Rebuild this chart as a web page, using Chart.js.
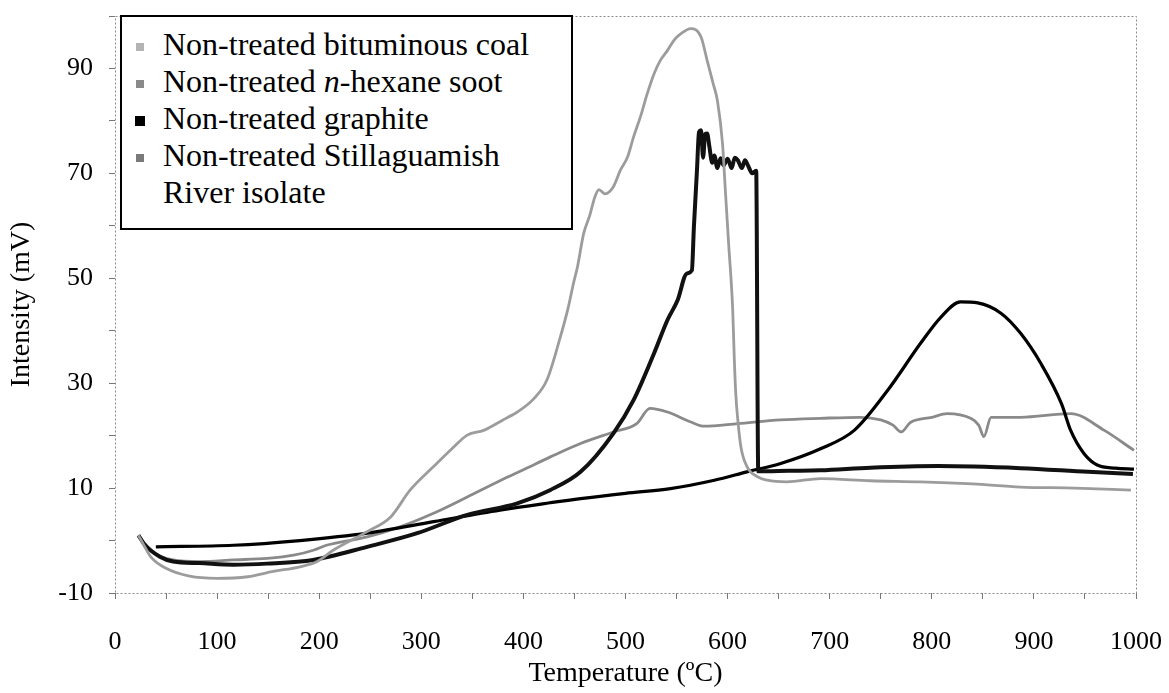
<!DOCTYPE html>
<html lang="en">
<head>
    <meta charset="UTF-8">
    <title>Intensity vs temperature</title>
    <script src="https://cdn.jsdelivr.net/npm/chart.js@4.4.1/dist/chart.umd.min.js"></script>
    <style>
        body { margin: 0; background: #fff; }
        #wrap { position: relative; width: 1169px; height: 693px; }
        #legend {
            position: absolute; left: 120px; top: 15px; width: 449px; height: 202px;
            border: 2px solid #000; background: #fff;
            font-family: "Liberation Serif", "Times New Roman", serif; font-size: 32px; line-height: 37px; color: #000;
            padding-top: 9px; box-sizing: content-box;
        }
        #legend .row { display: flex; align-items: flex-start; }
        #legend .mk { width: 8px; height: 8px; margin: 17px 19px 0 14px; flex: none; }
        #legend .tx { width: 385px; }
    </style>
</head>
<body>
<div id="wrap">
    <canvas id="chart" width="1169" height="693"></canvas>
    <div id="legend"></div>
</div>
<script>
// series names (legend order)
const seriesNames = ['Non-treated bituminous coal', 'Non-treated n-hexane soot', 'Non-treated graphite', 'Non-treated Stillaguamish River isolate'];

// bituminous coal (tall grey peak)
const coalT = [23, 30, 35, 50, 73, 100, 130, 155, 181, 198, 214, 247, 270, 289, 312, 330, 345, 361, 380, 394, 410, 423, 435, 444, 449, 453, 459, 465, 470, 474, 480, 488, 495, 502, 508, 515, 521, 528, 534, 541, 548, 554, 564, 574, 580, 586, 590, 595, 598, 601, 605, 606.5, 608, 610, 613, 619, 629, 639, 658, 691, 740, 789, 840, 887, 940, 995];
const coalV = [1, -1.5, -3.1, -5.3, -6.8, -7.2, -6.9, -5.9, -5, -4, -1.8, 1.7, 4.5, 9.6, 14.1, 17.5, 20.1, 21, 23, 24.5, 27, 30.6, 38, 44.5, 49, 52.2, 58.5, 62, 65.5, 66.9, 66.1, 67.4, 70.6, 73.1, 77, 81, 85, 89, 91.5, 93.4, 95.5, 96.6, 97.6, 96, 91.5, 87, 83.9, 75.7, 66.1, 56.6, 44, 35, 28, 23, 17.9, 14.1, 12.2, 11.5, 11.2, 11.8, 11.4, 11.2, 10.8, 10.2, 10, 9.6];

// n-hexane soot (sharp black peak, drop at 630)
const sootT = [23, 28, 44, 57, 83, 116, 149, 194, 247, 296, 345, 394, 426, 456, 488, 508, 528, 541, 551, 560, 565, 567, 570, 572, 574, 576, 578, 580, 582, 585, 587, 590, 593, 596, 600, 604, 607, 610, 614, 617, 620, 624, 628, 630, 660, 691, 740, 806, 887, 953, 997];
const sootV = [1, -0.5, -3.1, -4, -4.3, -4.6, -4.4, -3.7, -1.2, 1.4, 4.9, 7.1, 9.6, 13.1, 20.4, 26.8, 35.7, 42, 45.8, 50.9, 51.5, 59.8, 70.6, 77.9, 78.2, 73, 77.5, 77.6, 75.3, 72, 73.4, 71, 72.9, 71.5, 72.8, 71, 73, 72.5, 71, 72.5, 71.5, 70, 70.5, 13.2, 13.3, 13.4, 13.9, 14.2, 13.8, 13.1, 12.7];

// graphite (broad peak near 830)
const graphT = [40, 116, 181, 247, 312, 377, 426, 456, 500, 544, 587, 619, 652, 691, 724, 757, 789, 809, 828, 845, 868, 887, 907, 927, 936, 949, 962, 980, 998];
const graphV = [-1.2, -0.9, 0, 1.4, 3.6, 5.8, 7.2, 8, 9, 9.9, 11.5, 13.1, 14.7, 17.5, 21, 28.7, 37.6, 42.6, 45.5, 45.3, 43.3, 39.5, 33.7, 26.1, 21, 16.6, 14.4, 13.8, 13.6];

// Stillaguamish River isolate (grey plateau)
const isoT = [23, 34, 57, 83, 116, 149, 175, 195, 207, 247, 279, 312, 345, 378, 400, 427, 456, 488, 511, 524, 541, 564, 577, 610, 652, 691, 730, 750, 762, 770, 779, 800, 815, 838, 846, 851, 858, 887, 936, 969, 998];
const isoV = [1, -1.8, -3.7, -4, -3.7, -3.4, -2.8, -1.8, -0.9, 0.7, 2.6, 5.2, 8.3, 11.5, 13.5, 16, 18.5, 20.7, 22.3, 25.2, 24.5, 22.6, 21.8, 22.3, 23, 23.3, 23.5, 23, 22, 20.7, 22.5, 23.5, 24.2, 23.3, 22, 19.8, 23.5, 23.5, 24.2, 21, 17.2];

// axis ticks
const xLabelTicks = [0, 100, 200, 300, 400, 500, 600, 700, 800, 900, 1000];
const yLabelTicks = [-10, 10, 30, 50, 70, 90];

const serif = '"Liberation Serif", "Times New Roman", serif';
const pts = (t, v) => t.map((x, i) => ({ x: x, y: v[i] }));

// line colour / legend marker colour per series
const lineColors = ['#9c9c9c', '#111111', '#000000', '#8a8a8a'];
const markColors = ['#b4b4b4', '#8a8a8a', '#000000', '#7a7a7a'];
const lineWidths = [2.8, 4, 3.2, 2.8];
const seriesData = [pts(coalT, coalV), pts(sootT, sootV), pts(graphT, graphV), pts(isoT, isoV)];

// dotted plot frame
const frame = {
    id: 'frame',
    beforeDatasetsDraw(chart) {
        const { ctx, chartArea: a } = chart;
        ctx.save();
        ctx.strokeStyle = '#8a8a8a';
        ctx.lineWidth = 1;
        ctx.setLineDash([2, 2]);
        ctx.strokeRect(a.left + 0.5, a.top + 0.5, a.width, a.height);
        ctx.restore();
    }
};

new Chart(document.getElementById('chart'), {
    type: 'line',
    data: {
        datasets: seriesData.map((d, i) => ({
            label: seriesNames[i],
            data: d,
            borderColor: lineColors[i],
            backgroundColor: markColors[i],
            borderWidth: lineWidths[i],
            pointRadius: 0,
            cubicInterpolationMode: 'monotone',
            fill: false
        }))
    },
    options: {
        responsive: false,
        animation: false,
        devicePixelRatio: 1,
        layout: { padding: { left: 0, right: 33, top: 16, bottom: 0 } },
        plugins: { legend: { display: false }, tooltip: { enabled: false } },
        scales: {
            x: {
                type: 'linear', min: 0, max: 1000,
                afterBuildTicks: s => { s.ticks = []; for (let v = 0; v <= 1000; v += 50) s.ticks.push({ value: v }); },
                afterFit: s => { s.height = 100; s.paddingLeft = 0; s.paddingRight = 0; },
                grid: { drawOnChartArea: false, tickLength: 6, color: '#777' },
                border: { display: false },
                ticks: {
                    autoSkip: false, maxRotation: 0, padding: 28, color: '#000',
                    font: { family: serif, size: 26 },
                    callback: v => xLabelTicks.includes(v) ? String(v) : ''
                },
                title: { display: true, text: 'Temperature (\u00BAC)', color: '#000', font: { family: serif, size: 28 }, padding: { top: 0, bottom: 3 } }
            },
            y: {
                type: 'linear', min: -10, max: 100,
                afterBuildTicks: s => { s.ticks = []; for (let v = -10; v <= 100; v += 10) s.ticks.push({ value: v }); },
                afterFit: s => { s.width = 115; s.paddingTop = 0; s.paddingBottom = 0; },
                grid: { drawOnChartArea: false, tickLength: 6, color: '#777' },
                border: { display: false },
                ticks: {
                    autoSkip: false, padding: 16, color: '#000',
                    font: { family: serif, size: 26 },
                    callback: v => yLabelTicks.includes(v) ? String(v) : ''
                },
                title: { display: true, text: 'Intensity (mV)', color: '#000', font: { family: serif, size: 28 }, padding: { top: 5, bottom: 0 } }
            }
        }
    },
    plugins: [frame]
});

// legend box inside the plot, as in the original figure
const legend = document.getElementById('legend');
seriesNames.forEach((name, i) => {
    const row = document.createElement('div');
    row.className = 'row';
    const mk = document.createElement('span');
    mk.className = 'mk';
    mk.style.background = markColors[i];
    if (i === 2) { mk.style.width = '10px'; mk.style.height = '10px'; mk.style.marginTop = '16px'; mk.style.marginLeft = '13px'; mk.style.marginRight = '18px'; }
    const tx = document.createElement('span');
    tx.className = 'tx';
    tx.innerHTML = name.replace('n-hexane', '<i>n</i>-hexane');
    row.appendChild(mk);
    row.appendChild(tx);
    legend.appendChild(row);
});
</script>
</body>
</html>
